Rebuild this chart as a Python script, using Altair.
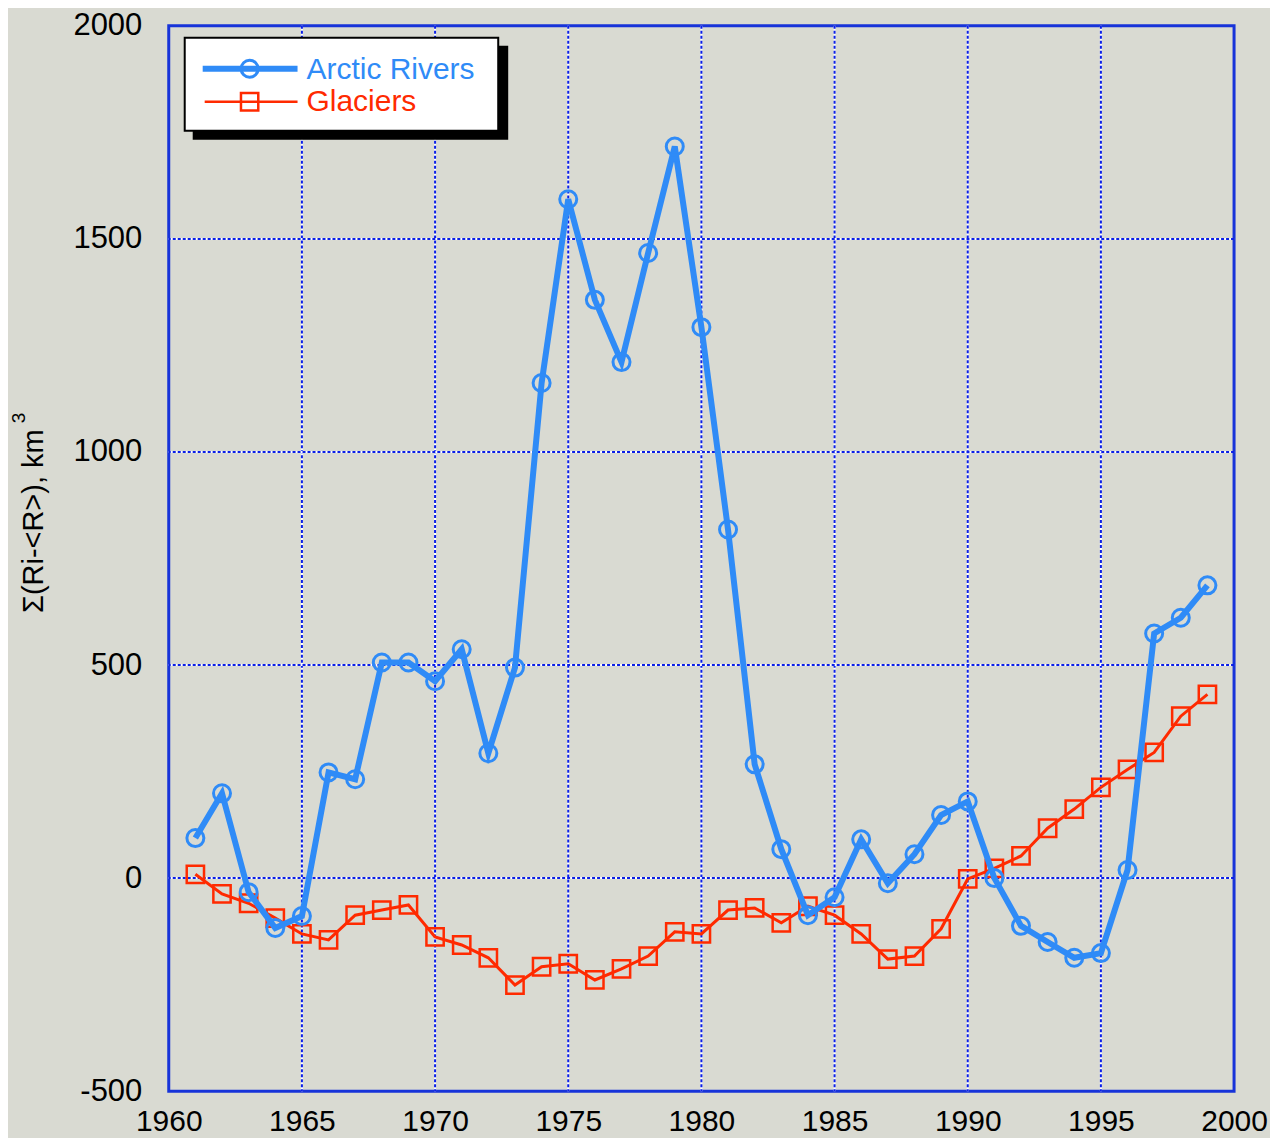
import altair as alt
import pandas as pd

years = list(range(1961, 2000))
arctic_rivers = [94, 199, -33, -117, -89, 248, 232, 506, 506, 462,
                 537, 293, 494, 1162, 1593, 1357, 1211, 1467, 1717, 1293,
                 818, 267, 68, -87, -45, 91, -12, 56, 148, 180,
                 0, -112, -150, -187, -176, 19, 574, 611, 687]
glaciers = [9, -37, -59, -94, -131, -145, -87, -75, -63, -138,
            -157, -187, -251, -208, -201, -239, -213, -183, -126, -131,
            -75, -70, -105, -66, -87, -131, -190, -183, -119, -2,
            23, 52, 117, 162, 213, 255, 295, 380, 431]
x_ticks = [1960, 1965, 1970, 1975, 1980, 1985, 1990, 1995, 2000]
y_ticks = [-500, 0, 500, 1000, 1500, 2000]
x_grid = [1965, 1970, 1975, 1980, 1985, 1990, 1995]
y_grid = [0, 500, 1000, 1500]

BLUE = "#2f8bf7"
RED = "#ff2a00"
GRID = "#0b1fe6"
FRAME = "#1733d9"
BG = "#d9dad2"
FONT = "Liberation Sans"

df_a = pd.DataFrame({"year": years, "value": arctic_rivers})
df_g = pd.DataFrame({"year": years, "value": glaciers})

xs = alt.Scale(domain=[1960, 2000], nice=False, zero=False)
ys = alt.Scale(domain=[-500, 2000], nice=False, zero=False)

x_axis = alt.Axis(values=x_ticks, labelExpr="'' + datum.value", grid=False, ticks=False,
                  domain=False, labelFlush=False, labelOverlap=False,
                  labelFont=FONT, labelFontSize=30, labelColor="black", labelPadding=15,
                  title=None)
y_axis = alt.Axis(values=y_ticks, labelExpr="'' + datum.value", grid=False, ticks=False,
                  domain=False, labelFlush=False, labelOverlap=False,
                  labelFont=FONT, labelFontSize=31, labelColor="black", labelPadding=27,
                  title=None)

gx = pd.DataFrame({"year": x_grid})
gy = pd.DataFrame({"value": y_grid})

grid_x_white = alt.Chart(gx).mark_rule(color="white", strokeWidth=2).encode(
    x=alt.X("year:Q", scale=xs, axis=x_axis))
grid_x_blue = alt.Chart(gx).mark_rule(color=GRID, strokeWidth=2, strokeDash=[3, 2]).encode(
    x=alt.X("year:Q", scale=xs))
grid_y_white = alt.Chart(gy).mark_rule(color="white", strokeWidth=2).encode(
    y=alt.Y("value:Q", scale=ys, axis=y_axis))
grid_y_blue = alt.Chart(gy).mark_rule(color=GRID, strokeWidth=2, strokeDash=[3, 2]).encode(
    y=alt.Y("value:Q", scale=ys))

line_g = alt.Chart(df_g).mark_line(color=RED, strokeWidth=3).encode(
    x=alt.X("year:Q", scale=xs), y=alt.Y("value:Q", scale=ys))
pts_g = alt.Chart(df_g).mark_point(shape="square", filled=False, color=RED,
                                   size=300, strokeWidth=2.5, opacity=1).encode(
    x=alt.X("year:Q", scale=xs), y=alt.Y("value:Q", scale=ys))
line_a = alt.Chart(df_a).mark_line(color=BLUE, strokeWidth=6).encode(
    x=alt.X("year:Q", scale=xs), y=alt.Y("value:Q", scale=ys))
pts_a = alt.Chart(df_a).mark_point(shape="circle", filled=False, color=BLUE,
                                   size=290, strokeWidth=3, opacity=1).encode(
    x=alt.X("year:Q", scale=xs), y=alt.Y("value:Q", scale=ys))

one = alt.Data(values=[{"k": 1}])

def px(v):
    return alt.value(v)

# pixel coordinates relative to the plot area; plot origin at page (169, 25)
ox, oy = 169, 25

# y-axis title with superscript
ytitle = alt.Chart(one).mark_text(text="Σ(Ri-<R>), km", color="black", font=FONT,
                                  fontSize=29, angle=270, align="left",
                                  baseline="alphabetic").encode(
    x=px(43 - ox), y=px(613 - oy))
ytitle_sup = alt.Chart(one).mark_text(text="3", color="black", font=FONT,
                                      fontSize=19, angle=270, align="left",
                                      baseline="alphabetic").encode(
    x=px(25 - ox), y=px(423 - oy))

# legend
shadow = alt.Chart(one).mark_rect(color="black").encode(
    x=px(193 - ox), x2=px(509 - ox), y=px(45 - oy), y2=px(139 - oy))
box = alt.Chart(one).mark_rect(fill="white", stroke="black", strokeWidth=2).encode(
    x=px(185 - ox), x2=px(499 - ox), y=px(37 - oy), y2=px(130 - oy))
leg_line_a = alt.Chart(one).mark_rule(color=BLUE, strokeWidth=6).encode(
    x=px(203 - ox), x2=px(298 - ox), y=px(68 - oy))
leg_pt_a = alt.Chart(one).mark_point(shape="circle", filled=False, color=BLUE,
                                     size=290, strokeWidth=3, opacity=1).encode(
    x=px(250 - ox), y=px(68 - oy))
leg_line_g = alt.Chart(one).mark_rule(color=RED, strokeWidth=2.5).encode(
    x=px(205 - ox), x2=px(298 - ox), y=px(101 - oy))
leg_pt_g = alt.Chart(one).mark_point(shape="square", filled=False, color=RED,
                                     size=300, strokeWidth=2.5, opacity=1).encode(
    x=px(250 - ox), y=px(101 - oy))
leg_txt_a = alt.Chart(one).mark_text(text="Arctic Rivers", color=BLUE, font=FONT,
                                     fontSize=30, align="left", baseline="alphabetic").encode(
    x=px(307 - ox), y=px(78 - oy))
leg_txt_g = alt.Chart(one).mark_text(text="Glaciers", color=RED, font=FONT,
                                     fontSize=30, align="left", baseline="alphabetic").encode(
    x=px(307 - ox), y=px(110 - oy))

chart = alt.layer(
    grid_x_white, grid_x_blue, grid_y_white, grid_y_blue,
    line_g, pts_g, line_a, pts_a,
    ytitle, ytitle_sup,
    shadow, box, leg_line_a, leg_pt_a, leg_line_g, leg_pt_g, leg_txt_a, leg_txt_g,
).properties(
    width=1067, height=1067,
    background=BG,
    autosize=alt.AutoSizeParams(type="none"),
    padding={"left": 161, "top": 17, "right": 36, "bottom": 46},
).configure_view(
    stroke=FRAME, strokeWidth=3, fill=BG, clip=False
)

chart.save("out.html", embed_options={"renderer": "svg", "actions": False})
